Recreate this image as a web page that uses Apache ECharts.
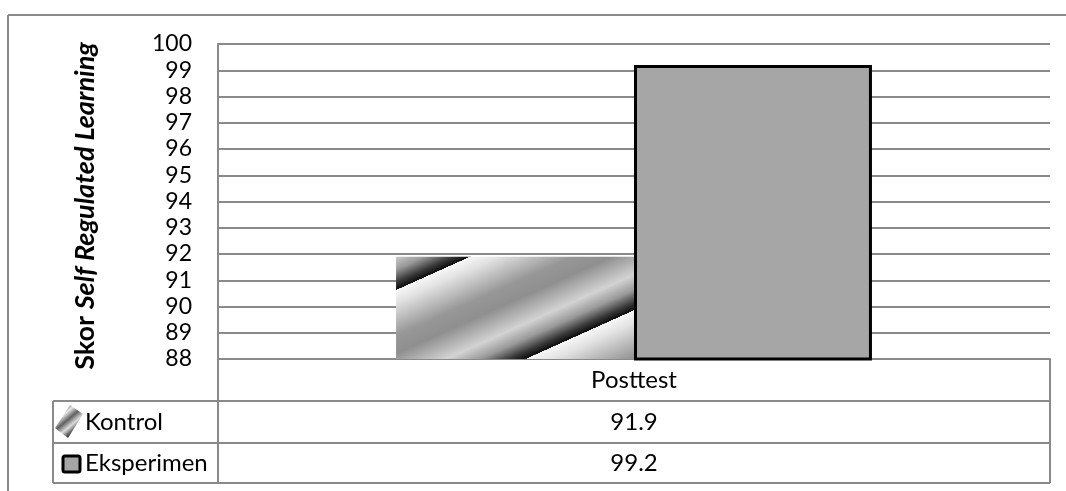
<!DOCTYPE html>
<html>
<head>
<meta charset="utf-8">
<script src="https://cdn.jsdelivr.net/npm/echarts@6/dist/echarts.min.js"></script>
<style>
  html, body { margin: 0; padding: 0; background: #ffffff; }
  #chart { width: 1066px; height: 491px; }
</style>
</head>
<body>
<div id="chart"></div>
<script>
// Chart values
const categories = ['Posttest'];
const seriesNames = ['Kontrol', 'Eksperimen'];
const kontrolValues = [91.9];
const eksperimenValues = [99.2];
const yMin = 88;
const yMax = 100;
const yStep = 1;

// Layout (pixels)
const W = 1066, H = 491;
const plotLeft = 218, plotRight = 1050, plotTop = 44, plotBottom = 359;
const tableLeft = 53;
const rowLines = [359, 401, 443, 483];
const lineColor = '#8a8a8a';
const FONT = 'Lato, "Open Sans", sans-serif';
const catGap = 0.428;

// Diagonal shaded stripes for the Kontrol bar
const stripeProfile = [
  [0.00, '#f7f7f7'], [0.10, '#e2e2e2'], [0.36, '#979797'], [0.50, '#8f8f8f'],
  [0.72, '#d3d3d3'], [0.84, '#999999'], [0.94, '#383838'], [0.999, '#0c0c0c']
];
function stripeFill() {
  const plotW = plotRight - plotLeft, plotH = plotBottom - plotTop;
  const barW = plotW * (1 - catGap) / 2;
  const barH = (kontrolValues[0] - yMin) / (yMax - yMin) * plotH;
  const ang = 24.2 * Math.PI / 180;
  const ux = Math.sin(ang), uy = Math.cos(ang);
  const period = 116, phase = 30.5 - 116;
  const p0 = phase, p1 = phase + 3 * period;
  const stops = [];
  for (let k = 0; k < 3; k++) {
    stripeProfile.forEach(([t, c]) => stops.push({ offset: (k + t) / 3, color: c }));
  }
  return new echarts.graphic.LinearGradient(
    ux * p0 / barW, uy * p0 / barH, ux * p1 / barW, uy * p1 / barH, stops
  );
}

const midX = (plotLeft + plotRight) / 2;
const rowMid = i => (rowLines[i] + rowLines[i + 1]) / 2;

function hLine(y, x1, x2) {
  return { type: 'line', silent: true, z: 10,
    shape: { x1: x1, y1: y, x2: x2, y2: y },
    style: { stroke: lineColor, lineWidth: 2 } };
}
function vLine(x, y1, y2) {
  return { type: 'line', silent: true, z: 10,
    shape: { x1: x, y1: y1, x2: x, y2: y2 },
    style: { stroke: lineColor, lineWidth: 2 } };
}

const valueRows = [kontrolValues, eksperimenValues];
const graphics = [
  // outer chart frame
  hLine(15, 8, W), vLine(8, 15, H),
  // data table grid
  hLine(rowLines[1], tableLeft, plotRight),
  hLine(rowLines[2], tableLeft, plotRight),
  hLine(rowLines[3], tableLeft, plotRight),
  vLine(tableLeft, rowLines[1], rowLines[3]),
  vLine(plotLeft, rowLines[0], rowLines[3]),
  vLine(plotRight, rowLines[0], rowLines[3]),
  // legend key: Kontrol (striped)
  { type: 'polygon', z: 11,
    shape: { points: [[55, 428], [70, 405], [83, 414], [68, 438]] },
    style: { fill: new echarts.graphic.LinearGradient(0, 0, 1, 1, [
      { offset: 0.0, color: '#d8d8d8' }, { offset: 0.15, color: '#505050' },
      { offset: 0.3, color: '#e8e8e8' }, { offset: 0.45, color: '#606060' },
      { offset: 0.6, color: '#dcdcdc' }, { offset: 0.75, color: '#3c3c3c' },
      { offset: 0.9, color: '#c8c8c8' }, { offset: 1.0, color: '#888888' }
    ]) } },
  // legend key: Eksperimen
  { type: 'rect', z: 11,
    shape: { x: 63, y: 456, width: 17, height: 16, r: 2 },
    style: { fill: '#a6a6a6', stroke: '#000000', lineWidth: 3 } }
];
seriesNames.forEach((name, i) => {
  graphics.push({ type: 'text', z: 11, x: 85, y: rowMid(i + 1),
    style: { text: name, font: '24px ' + FONT, fill: '#000', verticalAlign: 'middle', align: 'left' } });
  graphics.push({ type: 'text', z: 11, x: midX, y: rowMid(i + 1),
    style: { text: valueRows[i][0].toFixed(1), font: '24px ' + FONT, fill: '#000', verticalAlign: 'middle', align: 'center' } });
});

const chart = echarts.init(document.getElementById('chart'));
chart.setOption({
  animation: false,
  backgroundColor: '#ffffff',
  grid: { left: plotLeft, right: W - plotRight, top: plotTop, bottom: H - plotBottom, containLabel: false },
  xAxis: {
    type: 'category',
    data: categories,
    axisLine: { show: true, lineStyle: { color: lineColor, width: 2 } },
    axisTick: { show: false },
    axisLabel: { color: '#000', fontFamily: FONT, fontSize: 24, margin: 21, verticalAlign: 'middle' }
  },
  yAxis: {
    type: 'value',
    min: yMin, max: yMax, interval: yStep,
    name: '{a|Skor }{b|Self Regulated Learning}',
    nameLocation: 'middle',
    nameRotate: 90,
    nameGap: 119,
    nameTextStyle: {
      padding: [0, 9, 0, 0],
      rich: {
        a: { fontFamily: FONT, fontSize: 27, fontWeight: 'bold', color: '#000' },
        b: { fontFamily: FONT, fontSize: 27, fontWeight: 'bold', fontStyle: 'italic', color: '#000' }
      }
    },
    axisLine: { show: true, lineStyle: { color: lineColor, width: 2 } },
    axisTick: { show: false },
    axisLabel: { color: '#000', fontFamily: FONT, fontSize: 23, margin: 26 },
    splitLine: { show: true, lineStyle: { color: lineColor, width: 2 } }
  },
  series: [
    {
      name: seriesNames[0], type: 'bar', data: kontrolValues,
      barGap: '0%', barCategoryGap: (catGap * 100) + '%',
      itemStyle: { color: stripeFill() }
    },
    {
      name: seriesNames[1], type: 'bar', data: eksperimenValues,
      barGap: '0%', barCategoryGap: (catGap * 100) + '%',
      itemStyle: { color: '#a6a6a6', borderColor: '#000000', borderWidth: 3 }
    }
  ],
  graphic: graphics
});
</script>
</body>
</html>
